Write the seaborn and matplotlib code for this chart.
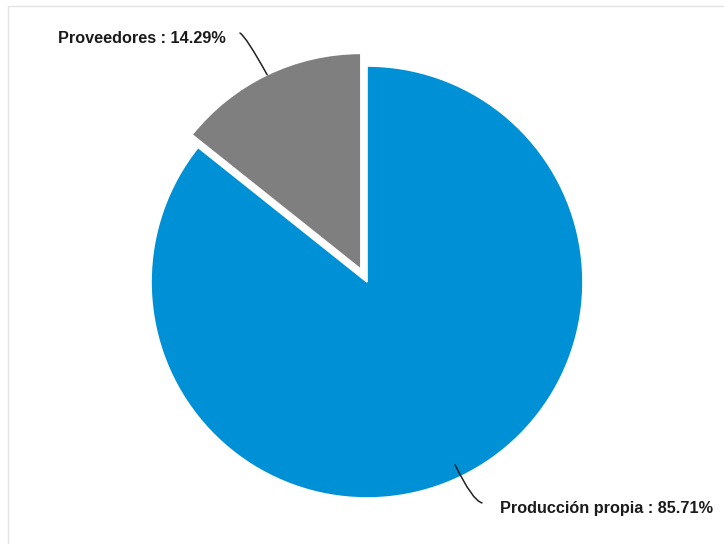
import numpy as np
import matplotlib
matplotlib.use("Agg")
import matplotlib.pyplot as plt
import seaborn as sns
from matplotlib.patches import Rectangle

# Data
categories = ["Producción propia", "Proveedores"]
shares = [85.71, 14.29]
colors = ["#0090D5", "#7F7F7F"]
explode = [0.0, 0.065]

sns.set_theme(style="white")
plt.rcParams["font.family"] = ["Liberation Sans", "DejaVu Sans"]

W, H = 724, 544
fig = plt.figure(figsize=(W / 100, H / 100), dpi=100)
fig.patch.set_facecolor("white")

# light card frame
fig.add_artist(Rectangle((8 / W, -0.1), 1.2, 1 - 6 / H + 0.1,
                         transform=fig.transFigure, fill=False,
                         edgecolor="#e3e3e3", linewidth=1.0))

# one data unit = pie radius (px), pie centre given in px from top-left
R = 216.0
cx, cy = 367.0, 282.0
ax = fig.add_axes([0, 0, 1, 1])

wedges, _ = ax.pie(shares, colors=colors, explode=explode, startangle=90,
                   counterclock=False, radius=1.0,
                   wedgeprops=dict(edgecolor="white", linewidth=1.2))

ax.set_xlim(-cx / R, (W - cx) / R)
ax.set_ylim(-(H - cy) / R, cy / R)
ax.set_aspect("equal")
ax.axis("off")

txt_kw = dict(fontsize=11.7, fontweight="bold", color="#1b1b1b")
line_kw = dict(arrowstyle="-", color="#222222", lw=1.1, shrinkA=0, shrinkB=0)

for w, name, val in zip(wedges, categories, shares):
    mid = np.deg2rad((w.theta1 + w.theta2) / 2)
    ux, uy = np.cos(mid), np.sin(mid)
    c = np.array(w.center)
    label = f"{name} : {val:.2f}%"
    if ux < 0:
        tip = c + 1.0 * np.array([ux, uy])
        end = c + 1.229 * np.array([np.cos(mid + 0.024), np.sin(mid + 0.024)])
        ax.annotate("", xy=tip, xytext=end,
                    arrowprops=dict(connectionstyle="angle3,angleA=-30,angleB=119",
                                    **line_kw))
        ax.annotate(label, xy=end, xytext=(-10, -7), textcoords="offset points",
                    ha="right", va="baseline", **txt_kw)
    else:
        tip = c + 0.94 * np.array([ux, uy])
        end = c + 1.153 * np.array([np.cos(mid + 0.031), np.sin(mid + 0.031)])
        ax.annotate("", xy=tip, xytext=end,
                    arrowprops=dict(connectionstyle="angle3,angleA=165,angleB=116",
                                    **line_kw))
        ax.annotate(label, xy=end, xytext=(13, -7.4), textcoords="offset points",
                    ha="left", va="baseline", **txt_kw)

fig.savefig("out.png", dpi=100, facecolor="white")
